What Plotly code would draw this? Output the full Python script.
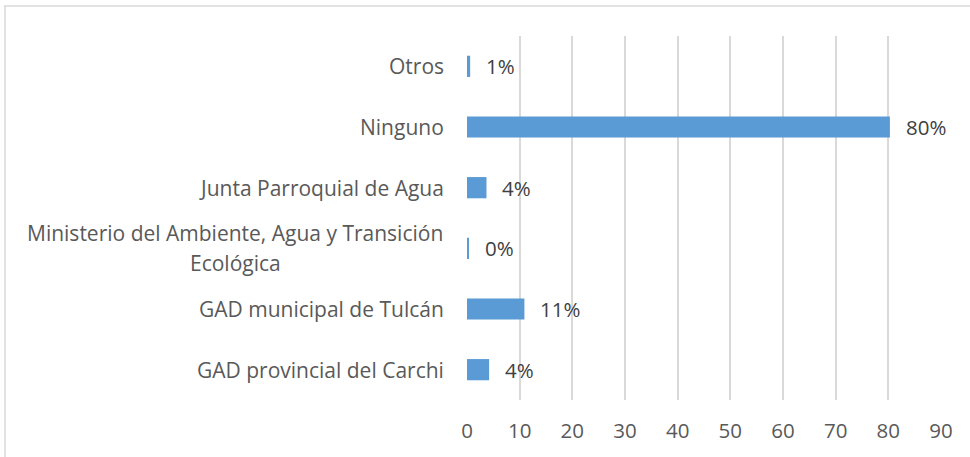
import plotly.graph_objects as go

categories = [
    "GAD provincial del Carchi",
    "GAD municipal de Tulcán",
    "Ministerio del Ambiente, Agua y Transición<br>Ecológica",
    "Junta Parroquial de Agua",
    "Ninguno",
    "Otros",
]
values = [4.2, 10.9, 0.3, 3.7, 80.3, 0.6]
value_labels = ["4%", "11%", "0%", "4%", "80%", "1%"]
x_ticks = [0, 10, 20, 30, 40, 50, 60, 70, 80, 90]

FONT = "Open Sans"
BAR = "#5B9BD5"

fig = go.Figure()
fig.add_trace(go.Bar(
    y=categories,
    x=values,
    orientation="h",
    marker=dict(color=BAR, line=dict(width=0)),
    hoverinfo="skip",
))

annotations = []
# value labels
for c, v, t in zip(categories, values, value_labels):
    annotations.append(dict(
        x=v, y=c, xref="x", yref="y", text=t, showarrow=False,
        xanchor="left", xshift=14,
        font=dict(family=FONT, size=20.5, color="#404040"),
    ))
# category labels (centered multi-line like Excel)
for c in categories:
    lines = c.split("<br>")
    n = len(lines)
    for i, ln in enumerate(lines):
        annotations.append(dict(
            x=0, y=c, xref="paper", yref="y", text=ln, showarrow=False,
            xanchor="right" if n == 1 else "center",
            xshift=-21 if n == 1 else -21 - 211,
            yshift=(n - 1) / 2 * 30 - i * 30,
            font=dict(family=FONT, size=21, color="#595959"),
        ))

fig.update_layout(
    width=970, height=457,
    margin=dict(l=467, r=29, t=36, b=57),
    paper_bgcolor="white", plot_bgcolor="white",
    showlegend=False,
    bargap=0.65,
    annotations=annotations,
    xaxis=dict(
        range=[0, 90], tickvals=x_ticks, ticktext=[str(t) for t in x_ticks],
        showgrid=True, gridcolor="#d9d9d9", gridwidth=2,
        zeroline=False, showline=False, ticks="",
        ticklabelstandoff=16,
        tickfont=dict(family=FONT, size=20.5, color="#595959"),
        fixedrange=True,
    ),
    yaxis=dict(
        categoryorder="array", categoryarray=categories,
        showticklabels=False, showgrid=False, zeroline=False, showline=False,
        ticks="", fixedrange=True,
    ),
    shapes=[
        dict(type="line", xref="paper", yref="paper",
             x0=(4 - 467) / 474, x1=(972 - 467) / 474,
             y0=(400 - 6) / 364, y1=(400 - 6) / 364,
             line=dict(color="#d9d9d9", width=1.5)),
        dict(type="line", xref="paper", yref="paper",
             x0=(5 - 467) / 474, x1=(5 - 467) / 474,
             y0=(400 - 6) / 364, y1=(400 - 460) / 364,
             line=dict(color="#d9d9d9", width=1.5)),
    ],
)

fig.write_html("out.html", config={"displayModeBar": False},
               post_script="document.body.style.margin='0';")
